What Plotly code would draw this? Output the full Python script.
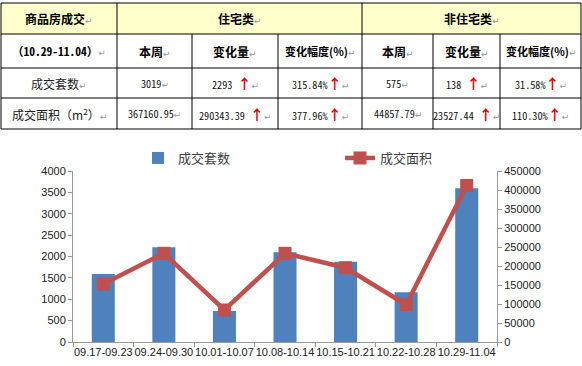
import plotly.graph_objects as go

# ---------------- data ----------------
weeks = ["09.17-09.23", "09.24-09.30", "10.01-10.07", "10.08-10.14",
         "10.15-10.21", "10.22-10.28", "10.29-11.04"]
units = [1590, 2215, 725, 2098, 1880, 1163, 3594]            # 成交套数
area = [152600, 233400, 84200, 233400, 195500, 98148, 412019]  # 成交面积

row_labels = ["成交套数", "成交面积（m<sup>2</sup>）"]
res_week = [3019, 367160.95]
res_change = [2293, 290343.39]
res_pct = [315.84, 377.96]
non_week = [575, 44857.79]
non_change = [138, 23527.44]
non_pct = [31.58, 110.30]
period = "（10.29-11.04）"
group_titles = ["商品房成交", "住宅类", "非住宅类"]
sub_titles = ["本周", "变化量", "变化幅度(%)"]

# ---------------- geometry helpers ----------------
W, H = 582, 366
PL, PR, PT, PB = 73, 497, 171, 342


def px(x):
    return (x - PL) / (PR - PL)


def py(y):
    return (PB - y) / (PB - PT)


fig = go.Figure()
fig.add_trace(go.Bar(
    x=weeks, y=units, name="成交套数", marker_color="#4F81BD",
    marker_line_width=0, width=0.38, legend="legend"))
fig.add_trace(go.Scatter(
    x=weeks, y=area, name="成交面积", yaxis="y2", mode="lines+markers",
    line=dict(color="#C0504D", width=4.5),
    marker=dict(symbol="square", size=13, color="#C0504D"),
    legend="legend2"))

# ---------------- table ----------------
col_edges = [1, 117, 192, 278, 362, 433, 500, 581]
row_edges = [3, 34, 68, 98, 129]
shapes = []
annos = []
shapes.append(dict(type="rect", xref="paper", yref="paper",
                   x0=px(col_edges[0]), x1=px(col_edges[-1]),
                   y0=py(row_edges[0]), y1=py(row_edges[1]),
                   fillcolor="#FFFFCC", line=dict(width=0), layer="below"))
for y in row_edges:
    shapes.append(dict(type="line", xref="paper", yref="paper",
                       x0=px(col_edges[0]), x1=px(col_edges[-1]),
                       y0=py(y), y1=py(y), line=dict(color="black", width=1)))
for i, x in enumerate(col_edges):
    top = row_edges[0] if i in (0, 1, 4, 7) else row_edges[1]
    shapes.append(dict(type="line", xref="paper", yref="paper",
                       x0=px(x), x1=px(x), y0=py(top), y1=py(row_edges[-1]),
                       line=dict(color="black", width=1)))

RET = '<span style="color:#9a9a9a;font-size:9px;font-family:DejaVu Sans">↵</span>'
ARROW = ('<span style="color:#E00000;font-size:14px;'
         'font-family:Noto Sans CJK SC"><b>↑</b></span>')
CJK = "Noto Sans CJK SC"
MONO = "Noto Sans Mono CJK SC, Liberation Mono, monospace"


def cell(text, c0, c1, r, size=12, family=CJK, color="black"):
    xc = (col_edges[c0] + col_edges[c1]) / 2
    yc = (row_edges[r] + row_edges[r + 1]) / 2
    annos.append(dict(xref="paper", yref="paper", x=px(xc), y=py(yc),
                      text=text, showarrow=False, xanchor="center",
                      yanchor="middle",
                      font=dict(family=family, size=size, color=color)))


cell("<b>" + group_titles[0] + "</b>" + RET, 0, 1, 0)
cell("<b>" + group_titles[1] + "</b>" + RET, 1, 4, 0)
cell("<b>" + group_titles[2] + "</b>" + RET, 4, 7, 0)
cell("<b>" + period + "</b>" + RET, 0, 1, 1, size=11.5, family=MONO)
for k, t in enumerate(sub_titles + sub_titles):
    cell("<b>" + t + "</b>" + RET, k + 1, k + 2, 1, size=12 if k % 3 != 2 else 11)

for r in range(2):
    dec = 0 if r == 0 else 2
    cell(row_labels[r] + RET, 0, 1, r + 2, size=12, color="#222222")
    vals = [
        f"{res_week[r]:.{dec}f}" + RET,
        f"{res_change[r]:.{dec}f} " + ARROW + RET,
        f"{res_pct[r]:.2f}%" + ARROW + RET,
        f"{non_week[r]:.{dec}f}" + RET,
        f"{non_change[r]:.{dec}f} " + ARROW + RET,
        f"{non_pct[r]:.2f}%" + ARROW + RET,
    ]
    for k, v in enumerate(vals):
        cell(v, k + 1, k + 2, r + 2, size=10.2, family=MONO, color="#111111")

axis_font = dict(family="Liberation Sans", size=11, color="#222222")
fig.update_layout(
    width=W, height=H,
    margin=dict(l=PL, r=W - PR, t=PT, b=H - PB, pad=0, autoexpand=False),
    paper_bgcolor="white", plot_bgcolor="white",
    showlegend=True,
    xaxis=dict(type="category", tickson="boundaries", ticks="outside",
               ticklen=4, tickcolor="#9a9a9a", showline=True, tickangle=0,
               automargin=False,
               linecolor="#9a9a9a", showgrid=False, tickfont=axis_font),
    yaxis=dict(range=[0, 4000], dtick=500, ticks="outside", ticklen=4,
               tickcolor="#9a9a9a", showline=True, linecolor="#9a9a9a",
               showgrid=False, zeroline=False, tickfont=axis_font,
               tickformat="d", automargin=False),
    yaxis2=dict(range=[0, 450000], dtick=50000, overlaying="y", side="right",
                ticks="outside", ticklen=4, tickcolor="#9a9a9a",
                showline=True, linecolor="#9a9a9a", showgrid=False,
                zeroline=False, tickfont=axis_font, tickformat="d",
                automargin=False),
    legend=dict(x=px(138), y=py(158), xanchor="left", yanchor="middle",
                orientation="h", bgcolor="rgba(0,0,0,0)",
                font=dict(family=CJK, size=13, color="#404040")),
    legend2=dict(x=px(340), y=py(158), xanchor="left", yanchor="middle",
                 orientation="h", bgcolor="rgba(0,0,0,0)",
                 font=dict(family=CJK, size=13, color="#404040")),
    shapes=shapes, annotations=annos,
)

fig.write_html("out.html", config={"displayModeBar": False},
               post_script="document.body.style.margin='0';")
